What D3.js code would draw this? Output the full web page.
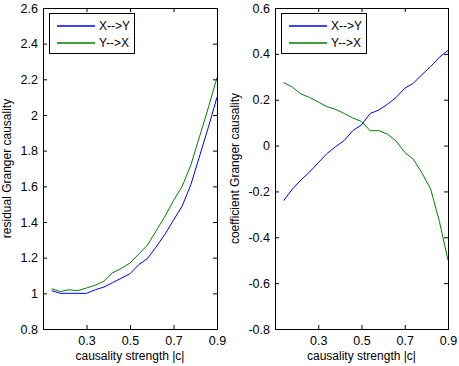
<!DOCTYPE html>
<html>
<head>
<meta charset="utf-8">
<script src="https://cdn.jsdelivr.net/npm/d3@7"></script>
<style>
  body { margin: 0; background: #fff; }
  text { font-family: "Liberation Sans", Arial, sans-serif; }
</style>
</head>
<body>
<div id="chart"></div>
<script>
// causality strength |c|
var strength = [0.14, 0.18, 0.22, 0.26, 0.30, 0.34, 0.38, 0.42, 0.46, 0.50,
                0.54, 0.58, 0.62, 0.66, 0.70, 0.74, 0.78, 0.82, 0.86, 0.90];

// residual Granger causality
var residualXY = [1.015, 1.0, 1.0, 1.0, 1.0, 1.02, 1.035, 1.06, 1.085, 1.11,
                  1.16, 1.195, 1.26, 1.33, 1.41, 1.49, 1.61, 1.77, 1.93, 2.10];
var residualYX = [1.026, 1.01, 1.02, 1.015, 1.03, 1.045, 1.068, 1.115, 1.14, 1.17,
                  1.22, 1.27, 1.35, 1.43, 1.52, 1.60, 1.72, 1.88, 2.04, 2.21];

// coefficient Granger causality
var coefXY = [-0.24, -0.19, -0.15, -0.115, -0.075, -0.035, -0.005, 0.022, 0.065, 0.09,
              0.14, 0.155, 0.18, 0.21, 0.25, 0.272, 0.31, 0.345, 0.385, 0.415];
var coefYX = [0.275, 0.255, 0.225, 0.21, 0.19, 0.17, 0.158, 0.14, 0.12, 0.105,
              0.065, 0.065, 0.05, 0.02, -0.03, -0.06, -0.12, -0.19, -0.33, -0.50];

var xTicks = [0.3, 0.5, 0.7, 0.9];
var leftTicks = [0.8, 1.0, 1.2, 1.4, 1.6, 1.8, 2.0, 2.2, 2.4, 2.6];
var rightTicks = [-0.8, -0.6, -0.4, -0.2, 0, 0.2, 0.4, 0.6];
var seriesNames = ["X-->Y", "Y-->X"];
var colors = ["#0000ff", "#008000"];

var W = 459, H = 366;
var svg = d3.select("#chart").append("svg")
    .attr("width", W).attr("height", H);

var fmt = function(d) { return String(+d.toFixed(1)); };

function panel(opts) {
  var x = d3.scaleLinear().domain([0.1, 0.9]).range([opts.left, opts.right]);
  var y = d3.scaleLinear().domain(opts.ydomain).range([opts.bottom, opts.top]);
  var w = opts.right - opts.left, h = opts.bottom - opts.top;
  var g = svg.append("g");

  g.append("rect")
    .attr("x", opts.left).attr("y", opts.top)
    .attr("width", w).attr("height", h)
    .attr("fill", "#fff");

  var line = d3.line()
    .x(function(d, i) { return x(strength[i]); })
    .y(function(d) { return y(d); });

  opts.series.forEach(function(s, k) {
    g.append("path")
      .datum(s)
      .attr("fill", "none")
      .attr("stroke", colors[k])
      .attr("stroke-width", 1)
      .attr("d", line);
  });

  // axes, ticks inward like matlab
  g.append("g")
    .attr("transform", "translate(0," + opts.bottom + ")")
    .call(d3.axisBottom(x).tickValues(xTicks).tickFormat(fmt).tickSizeInner(-4).tickSizeOuter(0).tickPadding(7));
  g.append("g")
    .attr("transform", "translate(0," + opts.top + ")")
    .call(d3.axisTop(x).tickValues(xTicks).tickFormat("").tickSizeInner(-4).tickSizeOuter(0));
  g.append("g")
    .attr("transform", "translate(" + opts.left + ",0)")
    .call(d3.axisLeft(y).tickValues(opts.yticks).tickFormat(fmt).tickSizeInner(-4).tickSizeOuter(0).tickPadding(5));
  g.append("g")
    .attr("transform", "translate(" + opts.right + ",0)")
    .call(d3.axisRight(y).tickValues(opts.yticks).tickFormat("").tickSizeInner(-4).tickSizeOuter(0));

  g.selectAll(".tick text").attr("font-size", 12.5).attr("font-family", "Liberation Sans, Arial, sans-serif").attr("fill", "#000");
  g.selectAll(".domain").attr("stroke", "#000");
  g.selectAll(".tick line").attr("stroke", "#000");

  // box
  g.append("rect")
    .attr("x", opts.left + 0.5).attr("y", opts.top + 0.5)
    .attr("width", w).attr("height", h)
    .attr("fill", "none").attr("stroke", "#000");

  // legend
  var lg = g.append("g").attr("transform", "translate(" + (opts.left + 6) + "," + (opts.top + 5) + ")");
  lg.append("rect")
    .attr("x", 0.5).attr("y", 0.5)
    .attr("width", 85).attr("height", 40)
    .attr("fill", "#fff").attr("stroke", "#000");
  seriesNames.forEach(function(n, k) {
    var yy = 13 + k * 17;
    lg.append("line")
      .attr("x1", 8).attr("x2", 46)
      .attr("y1", yy).attr("y2", yy)
      .attr("stroke", colors[k]).attr("stroke-width", 1.5);
    lg.append("text")
      .attr("x", 50).attr("y", yy)
      .attr("dy", "0.35em")
      .attr("font-size", 12)
      .text(n);
  });

  // labels
  svg.append("text")
    .attr("x", (opts.left + opts.right) / 2).attr("y", 360)
    .attr("text-anchor", "middle")
    .attr("font-size", 12)
    .text("causality strength |c|");
  svg.append("text")
    .attr("transform", "translate(" + opts.ylabelX + "," + ((opts.top + opts.bottom) / 2) + ") rotate(-90)")
    .attr("text-anchor", "middle")
    .attr("font-size", 12)
    .text(opts.ylabel);
}

panel({
  left: 43, right: 217, top: 8, bottom: 329,
  ydomain: [0.8, 2.6], yticks: leftTicks,
  series: [residualXY, residualYX],
  ylabel: "residual Granger causality", ylabelX: 11
});

panel({
  left: 275, right: 448, top: 8, bottom: 329,
  ydomain: [-0.8, 0.6], yticks: rightTicks,
  series: [coefXY, coefYX],
  ylabel: "coefficient Granger causality", ylabelX: 239
});
</script>
</body>
</html>
